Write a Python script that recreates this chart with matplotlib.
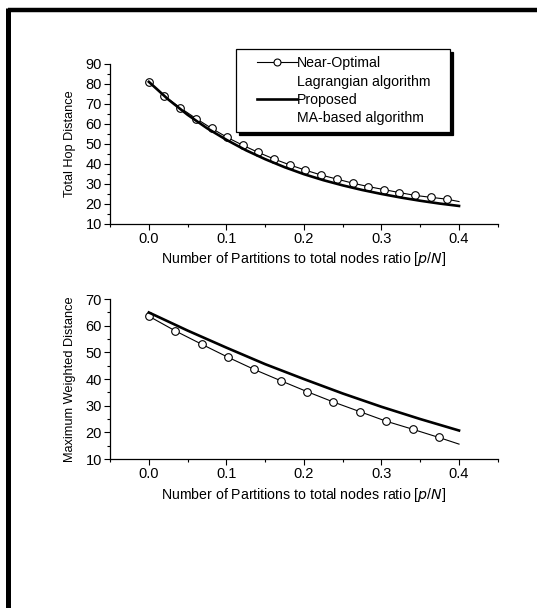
import matplotlib
matplotlib.use('Agg')
import matplotlib.pyplot as plt
from matplotlib.lines import Line2D
from matplotlib.legend_handler import HandlerLine2D
from matplotlib.ticker import MultipleLocator

plt.rcParams['font.family'] = ['Liberation Sans', 'DejaVu Sans']

# top panel: total hop distance
hop_x_near = [0.000, 0.020, 0.040, 0.061, 0.081, 0.101, 0.121, 0.141, 0.162, 0.182,
              0.202, 0.222, 0.242, 0.263, 0.283, 0.303, 0.323, 0.343, 0.364, 0.384, 0.400]
hop_near = [80.9, 73.9, 68.1, 62.6, 57.7, 53.2, 49.3, 45.7, 42.3, 39.4,
            36.8, 34.4, 32.4, 30.3, 28.6, 27.1, 25.6, 24.2, 23.2, 22.3, 21.1]
hop_x_prop = [0, 0.025, 0.05, 0.075, 0.1, 0.125, 0.15, 0.175, 0.2, 0.225,
              0.25, 0.275, 0.3, 0.325, 0.35, 0.375, 0.4]
hop_prop = [81.0, 72.2, 64.5, 57.8, 52.0, 46.8, 42.3, 38.3, 34.8, 31.8,
            29.2, 26.9, 24.9, 23.1, 21.5, 20.1, 18.9]

# bottom panel: maximum weighted distance
mwd_x_near = [0.000, 0.034, 0.068, 0.102, 0.136, 0.170, 0.204, 0.238, 0.272, 0.306,
              0.340, 0.374, 0.400]
mwd_near = [63.6, 58.1, 53.1, 48.2, 43.6, 39.4, 35.3, 31.4, 27.8, 24.2, 21.2, 18.1, 15.6]
mwd_x_prop = [0, 0.05, 0.1, 0.15, 0.2, 0.25, 0.3, 0.35, 0.4]
mwd_prop = [65.0, 58.2, 51.8, 45.6, 40.0, 34.6, 29.6, 25.0, 20.7]

near_label = 'Near-Optimal'
near_label2 = 'Lagrangian algorithm   '
prop_label = 'Proposed'
prop_label2 = 'MA-based algorithm'
xlabel = 'Number of Partitions to total nodes ratio [$\\it{p}$/$\\it{N}$]'

fig = plt.figure(figsize=(5.37, 6.08), dpi=100)
ax1 = fig.add_axes([0.205, 0.632, 0.722, 0.263])
ax2 = fig.add_axes([0.205, 0.245, 0.722, 0.263])

n_near = len(hop_near) - 1
ax1.plot(hop_x_near, hop_near, color='black', lw=0.8)
ax1.plot(hop_x_near[:n_near], hop_near[:n_near], ls='none', marker='o', ms=5.5,
         mfc='white', mec='black', mew=0.8)
ax1.plot(hop_x_prop, hop_prop, color='black', lw=1.9)

m_near = len(mwd_near) - 1
ax2.plot(mwd_x_near, mwd_near, color='black', lw=0.8)
ax2.plot(mwd_x_near[:m_near], mwd_near[:m_near], ls='none', marker='o', ms=5.5,
         mfc='white', mec='black', mew=0.8)
ax2.plot(mwd_x_prop, mwd_prop, color='black', lw=1.9)

for ax, ylab, ylim, ystep in [(ax1, 'Total Hop Distance', (10, 90), 10),
                              (ax2, 'Maximum Weighted Distance', (10, 70), 10)]:
    ax.set_xlim(-0.05, 0.45)
    ax.set_ylim(*ylim)
    ax.spines['top'].set_visible(False)
    ax.spines['right'].set_visible(False)
    ax.spines['left'].set_linewidth(0.9)
    ax.spines['bottom'].set_linewidth(0.9)
    ax.xaxis.set_major_locator(MultipleLocator(0.1))
    ax.xaxis.set_minor_locator(MultipleLocator(0.05))
    ax.yaxis.set_major_locator(MultipleLocator(ystep))
    ax.yaxis.set_minor_locator(MultipleLocator(ystep / 2))
    ax.set_xticks([0.0, 0.1, 0.2, 0.3, 0.4])
    ax.set_xticklabels(['0.0', '0.1', '0.2', '0.3', '0.4'])
    ax.tick_params(which='major', direction='out', length=4, width=0.8, labelsize=10.5, pad=2)
    ax.tick_params(which='minor', direction='out', length=2, width=0.8)
    ax.set_xlabel(xlabel, fontsize=10.2, labelpad=3)
    ax.set_ylabel(ylab, fontsize=9.2, labelpad=7)

handles = [
    Line2D([], [], color='black', lw=0.8, marker='o', ms=5, mfc='white', mec='black', mew=0.8),
    Line2D([], [], color='none'),
    Line2D([], [], color='black', lw=1.9),
    Line2D([], [], color='none'),
]
labels = [near_label, near_label2, prop_label, prop_label2]
leg = fig.legend(handles, labels, loc='upper left', bbox_to_anchor=(0.439, 0.919),
                 borderaxespad=0, fontsize=10.2, handlelength=3.8, handletextpad=0.05,
                 labelspacing=0.3, borderpad=0.5, fancybox=False,
                 handler_map={Line2D: HandlerLine2D(xpad=1.0)},
                 shadow={'color': 'black', 'alpha': 1.0, 'ox': 2.2, 'oy': -2.2})
leg.get_frame().set_edgecolor('black')
leg.get_frame().set_linewidth(0.9)

# partial black frame of the cropped figure
fig.add_artist(Line2D([8 / 537, 8 / 537], [0, 1 - 8 / 608], color='black', lw=3.6,
                      solid_capstyle='butt', transform=fig.transFigure))
fig.add_artist(Line2D([8 / 537, 1], [1 - 10 / 608, 1 - 10 / 608], color='black', lw=3.2,
                      solid_capstyle='butt', transform=fig.transFigure))

fig.savefig('out.png', dpi=100)
